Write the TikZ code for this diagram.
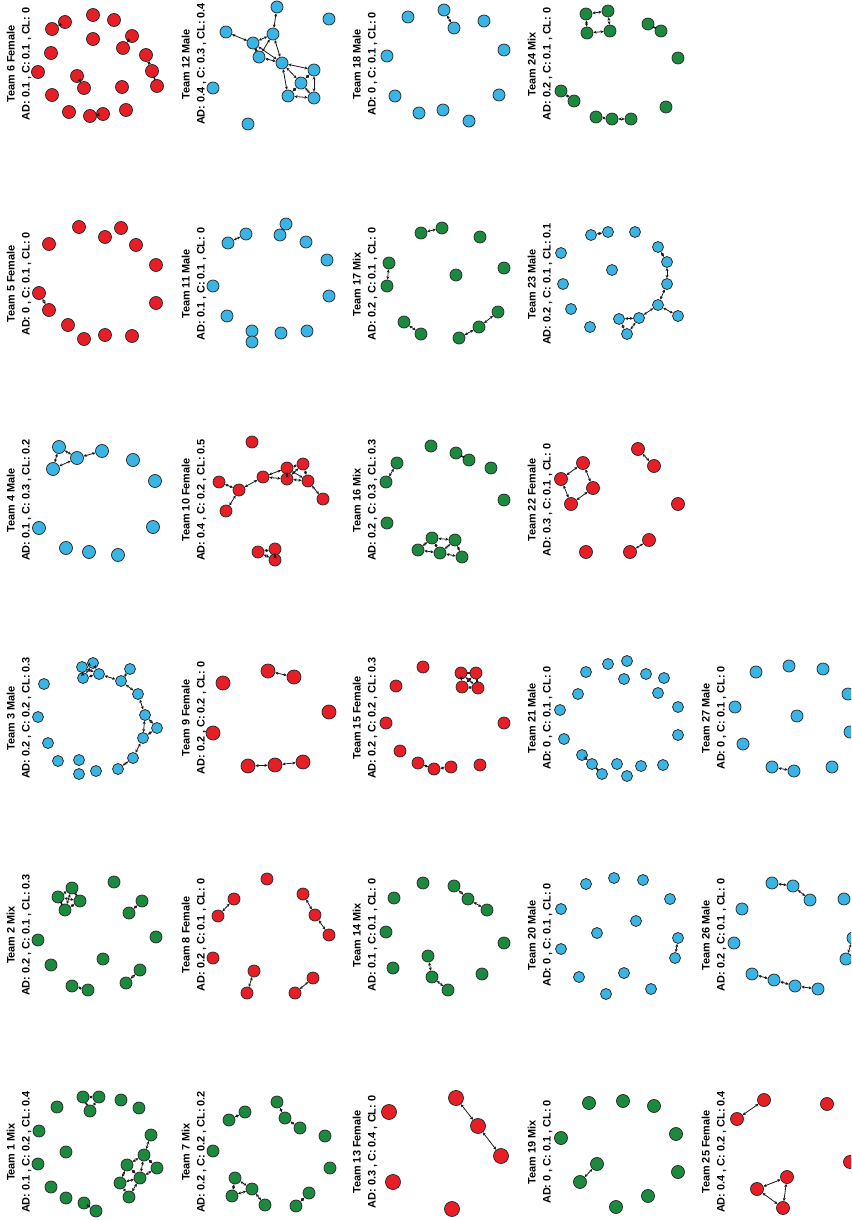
\documentclass[tikz,border=0pt]{standalone}
\usepackage{fontspec}
\setmainfont{Liberation Sans}
\usepackage{xcolor}
\usepackage{tikz}
\usetikzlibrary{arrows.meta}
\definecolor{corFem}{RGB}{232, 30, 38}
\definecolor{corMale}{RGB}{58, 180, 228}
\definecolor{corMix}{RGB}{28, 138, 62}
\definecolor{corBorda}{RGB}{40, 40, 40}

\begin{document}
\begin{tikzpicture}[
    x=1pt, y=-1pt,
    membro/.style={
        circle, draw=corBorda, line width=0.75pt,
        inner sep=0pt, minimum size=#1
    },
    membro/.default=12pt,
    fem/.style={membro=#1, fill=corFem}, fem/.default=12pt,
    male/.style={membro=#1, fill=corMale}, male/.default=12pt,
    mix/.style={membro=#1, fill=corMix}, mix/.default=12pt,
    lig/.style={
        {Stealth[length=3.2pt,width=3pt]}-{Stealth[length=3.2pt,width=3pt]},
        line width=0.8pt, draw=black!90
    },
    lbl/.style={
        rotate=90, align=center, inner sep=0pt,
        font=\bfseries\fontsize{10.9}{15}\selectfont
    }
]

\useasboundingbox (0,0) rectangle (851,1220);
\clip (0,0) rectangle (851,1220);

\foreach \n/\x/\y in {1/83/1097, 2/99/1097, 3/90/1111, 4/57/1107, 5/121/1100, 6/139/1108, 7/39/1131, 8/151/1135, 9/66/1152, 10/144/1155, 11/127/1165, 12/157/1168, 13/38/1164, 14/140/1178, 15/120/1183, 16/51/1187, 17/66/1198, 18/84/1203, 19/96/1211, 20/129/1197}
    \node[mix=12pt] (t1-\n) at (\x,\y) {};
\foreach \a/\b in {1/2, 1/3, 2/3, 8/10, 10/11, 10/12, 10/14, 11/14, 11/15, 12/14, 14/15, 15/20, 14/20, 18/19}
    \draw[lig] (t1-\a) -- (t1-\b);
\node[lbl] (lab1) at (19,1152) {Team 1 Mix\\AD: 0.1 , C: 0.2 , CL: 0.4};

\foreach \n/\x/\y in {1/72/888, 2/58/897, 3/80/901, 4/65/910, 5/114/882, 6/142/901, 7/129/913, 8/38/940, 9/156/937, 10/51/965, 11/103/959, 12/140/970, 13/126/983, 14/72/986, 15/88/990}
    \node[mix=12pt] (t2-\n) at (\x,\y) {};
\foreach \a/\b in {1/2, 1/3, 1/4, 2/3, 2/4, 3/4, 6/7, 12/13, 14/15}
    \draw[lig] (t2-\a) -- (t2-\b);
\node[lbl] (lab2) at (19,935) {Team 2 Mix\\AD: 0.2 , C: 0.1 , CL: 0.3};

\foreach \n/\x/\y in {1/82/667, 2/93/663, 3/83/678, 4/99/674, 5/130/669, 6/121/681, 7/138/694, 8/145/715, 9/157/728, 10/143/738, 11/133/758, 12/118/769, 13/44/684, 14/38/717, 15/48/743, 16/58/761, 17/79/760, 18/79/774, 19/96/771}
    \node[male=11pt] (t3-\n) at (\x,\y) {};
\foreach \a/\b in {1/2, 1/3, 1/4, 2/4, 3/4, 2/3, 4/6, 5/6, 6/7, 7/8, 8/9, 8/10, 9/10, 10/11, 11/12}
    \draw[lig] (t3-\a) -- (t3-\b);
\node[lbl] (lab3) at (19,718) {Team 3 Male\\AD: 0.2 , C: 0.2 , CL: 0.3};

\foreach \n/\x/\y in {1/59/447, 2/102/451, 3/77/458, 4/53/469, 5/133/460, 6/155/481, 7/39/528, 8/153/527, 9/66/548, 10/89/552, 11/118/555}
    \node[male=13pt] (t4-\n) at (\x,\y) {};
\foreach \a/\b in {1/3, 1/4, 3/4, 3/2}
    \draw[lig] (t4-\a) -- (t4-\b);
\node[lbl] (lab4) at (19,500) {Team 4 Male\\AD: 0.1 , C: 0.3 , CL: 0.2};

\foreach \n/\x/\y in {1/79/227, 2/121/228, 3/49/244, 4/105/237, 5/136/245, 6/156/265, 7/39/293, 8/49/310, 9/156/303, 10/68/325, 11/84/339, 12/105/335, 13/132/336}
    \node[fem=13pt] (t5-\n) at (\x,\y) {};
\draw[lig] (t5-7) -- (t5-8);
\node[lbl] (lab5) at (19,284) {Team 5 Female\\AD: 0 , C: 0.1 , CL: 0};

\foreach \n/\x/\y in {1/65/22, 2/52/29, 3/93/15, 4/114/20, 5/132/36, 6/123/48, 7/93/39, 8/51/53, 9/38/72, 10/77/76, 11/84/88, 12/52/95, 13/69/112, 14/90/116, 15/103/114, 16/126/110, 17/122/87, 18/146/55, 19/152/71, 20/157/86}
    \node[fem=13pt] (t6-\n) at (\x,\y) {};
\foreach \a/\b in {1/2, 5/6, 10/11, 14/15, 18/19, 19/20}
    \draw[lig] (t6-\a) -- (t6-\b);
\node[lbl] (lab6) at (19,64) {Team 6 Female\\AD: 0.1 , C: 0.1 , CL: 0};

\foreach \n/\x/\y in {1/277/1102, 2/245/1112, 3/229/1120, 4/285/1118, 5/300/1128, 6/325/1136, 7/213/1151, 8/330/1168, 9/235/1178, 10/252/1189, 11/232/1196, 12/309/1193, 13/265/1205, 14/296/1206}
    \node[mix=12pt] (t7-\n) at (\x,\y) {};
\foreach \a/\b in {2/3, 1/4, 4/5, 9/10, 9/11, 10/11, 10/13, 12/14}
    \draw[lig] (t7-\a) -- (t7-\b);
\node[lbl] (lab7) at (194,1152) {Team 7 Mix\\AD: 0.2 , C: 0.2 , CL: 0.2};

\foreach \n/\x/\y in {1/267/879, 2/234/899, 3/218/916, 4/303/894, 5/315/915, 6/329/935, 7/213/958, 8/254/971, 9/247/993, 10/313/978, 11/295/993}
    \node[fem=12pt] (t8-\n) at (\x,\y) {};
\foreach \a/\b in {2/3, 4/5, 5/6, 8/9, 10/11}
    \draw[lig] (t8-\a) -- (t8-\b);
\node[lbl] (lab8) at (194,935) {Team 8 Female\\AD: 0.2 , C: 0.1 , CL: 0};

\foreach \n/\x/\y in {1/268/671, 2/294/677, 3/223/683, 4/329/712, 5/213/733, 6/248/766, 7/275/765, 8/303/762}
    \node[fem=14pt] (t9-\n) at (\x,\y) {};
\foreach \a/\b in {1/2, 6/7, 7/8}
    \draw[lig] (t9-\a) -- (t9-\b);
\node[lbl] (lab9) at (194,718) {Team 9 Female\\AD: 0.2 , C: 0.2 , CL: 0};

\foreach \n/\x/\y in {1/252/442, 2/303/464, 3/287/468, 4/263/477, 5/287/479, 6/308/481, 7/219/482, 8/239/490, 9/323/499, 10/226/511, 11/258/552, 12/275/549, 13/275/560}
    \node[fem=12pt] (t10-\n) at (\x,\y) {};
\foreach \a/\b in {7/8, 8/10, 8/4, 4/3, 4/5, 3/2, 3/6, 2/6, 5/6, 5/2, 3/5, 6/9, 11/12, 11/13, 12/13}
    \draw[lig] (t10-\a) -- (t10-\b);
\node[lbl] (lab10) at (194,500) {Team 10 Female\\AD: 0.4 , C: 0.2 , CL: 0.5};

\foreach \n/\x/\y in {1/286/224, 2/280/235, 3/246/234, 4/228/243, 5/306/242, 6/327/260, 7/213/286, 8/329/296, 9/227/316, 10/252/331, 11/252/342, 12/281/333, 13/307/331}
    \node[male=12pt] (t11-\n) at (\x,\y) {};
\draw[lig] (t11-3) -- (t11-4);
\node[lbl] (lab11) at (194,284) {Team 11 Male\\AD: 0.1 , C: 0.1 , CL: 0};

\foreach \n/\x/\y in {1/277/7, 2/329/19, 3/226/32, 4/273/34, 5/253/43, 6/259/57, 7/282/63, 8/314/70, 9/301/83, 10/213/88, 11/288/96, 12/314/98, 13/248/124}
    \node[male=12pt] (t12-\n) at (\x,\y) {};
\foreach \a/\b in {1/4, 3/5, 4/5, 5/6, 5/7, 4/6, 4/7, 6/7, 7/8, 7/9, 7/11, 8/9, 8/12, 9/11, 9/12, 11/12}
    \draw[lig] (t12-\a) -- (t12-\b);
\node[lbl] (lab12) at (194,64) {Team 12 Male\\AD: 0.4 , C: 0.3 , CL: 0.4};

\foreach \n/\x/\y in {1/389/1112, 2/456/1098, 3/478/1126, 4/501/1156, 5/393/1182, 6/452/1209}
    \node[fem=15pt] (t13-\n) at (\x,\y) {};
\foreach \a/\b in {2/3, 3/4}
    \draw[lig] (t13-\a) -- (t13-\b);
\node[lbl] (lab13) at (365,1152) {Team 13 Female\\AD: 0.3 , C: 0.4 , CL: 0};

\foreach \n/\x/\y in {1/423/883, 2/394/898, 3/454/886, 4/468/899, 5/487/910, 6/386/932, 7/504/943, 8/393/968, 9/428/956, 10/432/977, 11/448/990, 12/482/974}
    \node[mix=12pt] (t14-\n) at (\x,\y) {};
\foreach \a/\b in {3/4, 4/5, 9/10, 10/11}
    \draw[lig] (t14-\a) -- (t14-\b);
\node[lbl] (lab14) at (365,935) {Team 14 Mix\\AD: 0.1 , C: 0.1 , CL: 0};

\foreach \n/\x/\y in {1/423/667, 2/396/686, 3/461/673, 4/476/673, 5/462/687, 6/478/688, 7/386/723, 8/504/723, 9/400/751, 10/418/763, 11/434/769, 12/451/767, 13/480/765}
    \node[fem=12pt] (t15-\n) at (\x,\y) {};
\foreach \a/\b in {3/4, 3/5, 3/6, 4/5, 4/6, 5/6, 10/11, 11/12}
    \draw[lig] (t15-\a) -- (t15-\b);
\node[lbl] (lab15) at (365,718) {Team 15 Female\\AD: 0.2 , C: 0.2 , CL: 0.3};

\foreach \n/\x/\y in {1/431/446, 2/397/463, 3/456/453, 4/469/460, 5/491/468, 6/386/482, 7/504/500, 8/387/523, 9/432/538, 10/455/540, 11/418/550, 12/440/553, 13/462/557}
    \node[mix=12pt] (t16-\n) at (\x,\y) {};
\foreach \a/\b in {2/6, 3/4, 9/10, 9/11, 9/12, 11/12, 10/12, 10/13, 12/13}
    \draw[lig] (t16-\a) -- (t16-\b);
\node[lbl] (lab16) at (365,500) {Team 16 Mix\\AD: 0.2 , C: 0.3 , CL: 0.3};

\foreach \n/\x/\y in {1/442/228, 2/421/233, 3/480/237, 4/389/263, 5/387/286, 6/504/268, 7/456/275, 8/404/322, 9/421/334, 10/498/312, 11/479/327, 12/459/338}
    \node[mix=12pt] (t17-\n) at (\x,\y) {};
\foreach \a/\b in {1/2, 4/5, 8/9, 10/11, 11/12}
    \draw[lig] (t17-\a) -- (t17-\b);
\node[lbl] (lab17) at (365,284) {Team 17 Mix\\AD: 0.2 , C: 0.1 , CL: 0};

\foreach \n/\x/\y in {1/444/10, 2/454/28, 3/408/17, 4/484/21, 5/387/56, 6/504/50, 7/395/96, 8/499/95, 9/419/113, 10/443/110, 11/469/121}
    \node[male=12pt] (t18-\n) at (\x,\y) {};
\draw[lig] (t18-1) -- (t18-2);
\node[lbl] (lab18) at (365,64) {Team 18 Male\\AD: 0 , C: 0.1 , CL: 0};

\foreach \n/\x/\y in {1/589/1103, 2/623/1101, 3/654/1106, 4/561/1138, 5/676/1134, 6/597/1164, 7/580/1182, 8/678/1172, 9/648/1196, 10/616/1207}
    \node[mix=13pt] (t19-\n) at (\x,\y) {};
\draw[lig] (t19-6) -- (t19-7);
\node[lbl] (lab19) at (540,1152) {Team 19 Mix\\AD: 0 , C: 0.1 , CL: 0};

\foreach \n/\x/\y in {1/586/884, 2/614/878, 3/643/880, 4/670/899, 5/561/909, 6/636/921, 7/597/933, 8/678/938, 9/561/949, 10/675/958, 11/579/977, 12/624/973, 13/651/989, 14/606/994}
    \node[male=11pt] (t20-\n) at (\x,\y) {};
\draw[lig] (t20-8) -- (t20-10);
\node[lbl] (lab20) at (540,935) {Team 20 Male\\AD: 0 , C: 0.1 , CL: 0};

\foreach \n/\x/\y in {1/627/661, 2/608/664, 3/586/672, 4/624/679, 5/646/674, 6/664/678, 7/578/694, 8/658/693, 9/560/710, 10/678/707, 11/564/739, 12/678/735, 13/582/755, 14/592/764, 15/602/774, 16/617/764, 17/627/776, 18/641/766, 19/663/765}
    \node[male=11pt] (t21-\n) at (\x,\y) {};
\foreach \a/\b in {13/14, 14/15}
    \draw[lig] (t21-\a) -- (t21-\b);
\node[lbl] (lab21) at (540,718) {Team 21 Male\\AD: 0 , C: 0.1 , CL: 0};

\foreach \n/\x/\y in {1/638/449, 2/654/466, 3/583/463, 4/561/479, 5/593/488, 6/571/504, 7/678/504, 8/586/552, 9/630/552, 10/649/540}
    \node[fem=13pt] (t22-\n) at (\x,\y) {};
\foreach \a/\b in {1/2, 3/4, 4/6, 6/5, 5/3, 9/10}
    \draw[lig] (t22-\a) -- (t22-\b);
\node[lbl] (lab22) at (540,500) {Team 22 Female\\AD: 0.3 , C: 0.1 , CL: 0};

\foreach \n/\x/\y in {1/591/235, 2/608/232, 3/635/232, 4/561/253, 5/658/247, 6/667/262, 7/612/270, 8/563/284, 9/667/284, 10/571/309, 11/658/305, 12/678/316, 13/639/318, 14/619/319, 15/590/327, 16/627/334}
    \node[male=11pt] (t23-\n) at (\x,\y) {};
\foreach \a/\b in {1/2, 5/6, 6/9, 9/11, 11/12, 11/13, 13/14, 14/16, 13/16}
    \draw[lig] (t23-\a) -- (t23-\b);
\node[lbl] (lab23) at (540,284) {Team 23 Male\\AD: 0.2 , C: 0.1 , CL: 0.1};

\foreach \n/\x/\y in {1/586/14, 2/608/11, 3/587/33, 4/610/31, 5/648/24, 6/661/31, 7/678/58, 8/561/91, 9/574/101, 10/666/107, 11/596/117, 12/612/119, 13/631/119}
    \node[mix=12pt] (t24-\n) at (\x,\y) {};
\foreach \a/\b in {1/2, 2/4, 4/3, 3/1, 5/6, 8/9, 11/12, 12/13}
    \draw[lig] (t24-\a) -- (t24-\b);
\node[lbl] (lab24) at (540,64) {Team 24 Mix\\AD: 0.2 , C: 0.1 , CL: 0};

\foreach \n/\x/\y in {1/764/1100, 2/737/1119, 3/827/1104, 4/787/1177, 5/757/1189, 6/783/1208, 7/850/1162}
    \node[fem=13pt] (t25-\n) at (\x,\y) {};
\foreach \a/\b in {1/2, 4/5, 5/6, 4/6}
    \draw[lig] (t25-\a) -- (t25-\b);
\node[lbl] (lab25) at (714,1152) {Team 25 Female\\AD: 0.4 , C: 0.2 , CL: 0.4};

\foreach \n/\x/\y in {1/772/883, 2/793/886, 3/810/900, 4/742/909, 5/734/943, 6/844/899, 7/752/974, 8/774/980, 9/795/986, 10/818/989, 11/853/938, 12/846/959}
    \node[male=12pt] (t26-\n) at (\x,\y) {};
\foreach \a/\b in {1/2, 2/3, 7/8, 8/9, 9/10, 11/12}
    \draw[lig] (t26-\a) -- (t26-\b);
\node[lbl] (lab26) at (714,935) {Team 26 Male\\AD: 0.2 , C: 0.1 , CL: 0};

\foreach \n/\x/\y in {1/756/672, 2/789/666, 3/823/669, 4/735/707, 5/797/716, 6/848/694, 7/743/744, 8/772/767, 9/794/771, 10/832/767, 11/850/732}
    \node[male=12pt] (t27-\n) at (\x,\y) {};
\draw[lig] (t27-8) -- (t27-9);
\node[lbl] (lab27) at (714,718) {Team 27 Male\\AD: 0 , C: 0.1 , CL: 0};

\end{tikzpicture}
\end{document}
